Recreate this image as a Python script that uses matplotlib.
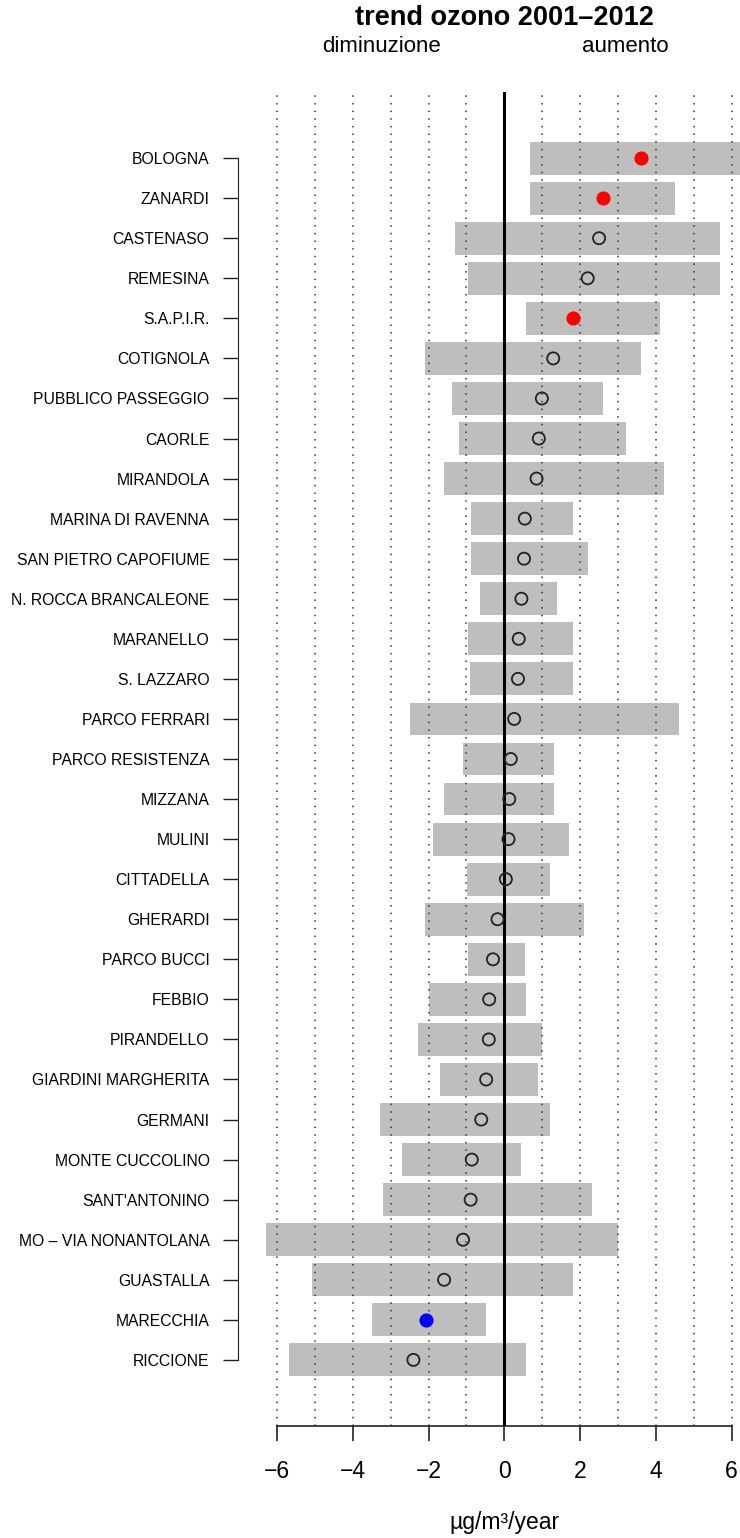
import matplotlib.pyplot as plt
import numpy as np

plt.rcParams['font.family'] = ['Liberation Sans', 'DejaVu Sans']

stations = ['BOLOGNA', 'ZANARDI', 'CASTENASO', 'REMESINA', 'S.A.P.I.R.', 'COTIGNOLA',
            'PUBBLICO PASSEGGIO', 'CAORLE', 'MIRANDOLA', 'MARINA DI RAVENNA',
            'SAN PIETRO CAPOFIUME', 'N. ROCCA BRANCALEONE', 'MARANELLO', 'S. LAZZARO',
            'PARCO FERRARI', 'PARCO RESISTENZA', 'MIZZANA', 'MULINI', 'CITTADELLA',
            'GHERARDI', 'PARCO BUCCI', 'FEBBIO', 'PIRANDELLO', 'GIARDINI MARGHERITA',
            'GERMANI', 'MONTE CUCCOLINO', "SANT'ANTONINO", 'MO \u2013 VIA NONANTOLANA',
            'GUASTALLA', 'MARECCHIA', 'RICCIONE']

trend = [3.61, 2.60, 2.50, 2.20, 1.80, 1.29, 0.99, 0.91, 0.85, 0.54,
         0.52, 0.45, 0.38, 0.36, 0.26, 0.17, 0.13, 0.11, 0.04, -0.18,
         -0.30, -0.40, -0.41, -0.48, -0.61, -0.86, -0.89, -1.09, -1.59, -2.08, -2.40]
lower = [0.67, 0.69, -1.29, -0.95, 0.57, -2.09, -1.39, -1.20, -1.59, -0.88,
         -0.88, -0.63, -0.96, -0.91, -2.49, -1.09, -1.59, -1.89, -0.99, -2.09,
         -0.97, -1.99, -2.29, -1.69, -3.29, -2.69, -3.19, -6.29, -5.09, -3.48, -5.69]
upper = [7.20, 4.50, 5.70, 5.70, 4.10, 3.60, 2.60, 3.20, 4.21, 1.80,
         2.20, 1.40, 1.80, 1.80, 4.60, 1.30, 1.30, 1.71, 1.21, 2.10,
         0.54, 0.56, 1.00, 0.88, 1.21, 0.45, 2.31, 3.01, 1.80, -0.48, 0.56]
# significance: 'up' = significant increase, 'down' = significant decrease, '' = not significant
signif = ['up', 'up', '', '', 'up', '', '', '', '', '',
          '', '', '', '', '', '', '', '', '', '',
          '', '', '', '', '', '', '', '', '', 'down', '']

n = len(stations)
y = np.arange(n, 0, -1)

fig = plt.figure(figsize=(7.4, 15.38), dpi=100)
ax = fig.add_axes([238 / 740, 112 / 1538, 502 / 740, 1334 / 1538])

lo = np.array(lower)
hi = np.array(upper)
ax.barh(y, hi - lo, left=lo, height=0.82, color='#bebebe', zorder=1)

for g in range(-6, 7):
    if g != 0:
        ax.axvline(g, color='#333333', linestyle=(0, (1, 4)), linewidth=1.1, zorder=2)
ax.axvline(0, color='black', linewidth=2.2, zorder=3)

tr = np.array(trend)
sig = np.array(signif)
ns = sig == ''
ax.scatter(tr[ns], y[ns], s=76, facecolors='none', edgecolors='#222222', linewidths=1.3, zorder=4)
ax.scatter(tr[sig == 'up'], y[sig == 'up'], s=84, color='#ff0000', zorder=4)
ax.scatter(tr[sig == 'down'], y[sig == 'down'], s=84, color='#0000ff', zorder=4)

ax.set_xlim(-7.03, 6.22)
ax.set_ylim(1 - 1.65, n + 1.65)

ax.set_yticks(y)
ax.set_yticklabels(stations, fontsize=11.3)
ax.set_xticks(np.arange(-6, 7, 2))
ax.set_xticklabels(['\u22126', '\u22124', '\u22122', '0', '2', '4', '6'], fontsize=16.5)
ax.tick_params(axis='y', length=10.5, width=1, pad=10, color='#222222')
ax.tick_params(axis='x', length=10.5, width=1.2, pad=14, color='#222222')

for s in ['top', 'right']:
    ax.spines[s].set_visible(False)
ax.spines['left'].set_bounds(1, n)
ax.spines['bottom'].set_bounds(-6, 6)
ax.spines['left'].set_color('#222222')
ax.spines['bottom'].set_color('#222222')
ax.spines['bottom'].set_linewidth(1.2)

fig.text(504 / 740, 1 - 18 / 1538, 'trend ozono 2001\u20132012', fontsize=19.5,
         fontweight='bold', ha='center', va='center')
fig.text(382 / 740, 1 - 47 / 1538, 'diminuzione', fontsize=16, ha='center', va='center')
fig.text(625 / 740, 1 - 47 / 1538, 'aumento', fontsize=16, ha='center', va='center')
fig.text(504 / 740, 1 - 1522 / 1538, '\u00b5g/m\u00b3/year', fontsize=16.5, ha='center', va='center')

plt.savefig('out.png', dpi=100)
